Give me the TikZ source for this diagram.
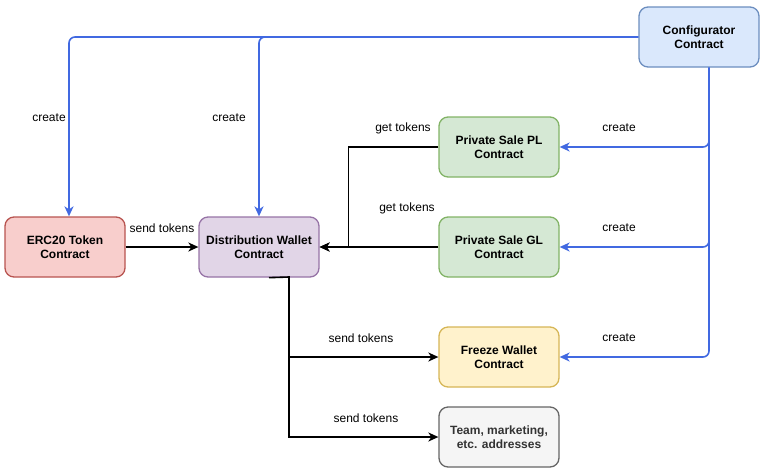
\documentclass[tikz,border=0pt]{standalone}
\usepackage{fontspec}
\setmainfont{Liberation Sans}
\usepackage{xcolor}
\usetikzlibrary{arrows.meta}
\definecolor{softred}{HTML}{F8CECC}
\definecolor{linered}{HTML}{B85450}
\definecolor{softpurple}{HTML}{E1D5E7}
\definecolor{linepurple}{HTML}{9673A6}
\definecolor{softgreen}{HTML}{D5E8D4}
\definecolor{linegreen}{HTML}{82B366}
\definecolor{softyellow}{HTML}{FFF2CC}
\definecolor{lineyellow}{HTML}{D6B656}
\definecolor{softgray}{HTML}{F5F5F5}
\definecolor{linegray}{HTML}{666666}
\definecolor{textgray}{HTML}{333333}
\definecolor{softblue}{HTML}{DAE8FC}
\definecolor{lineblue}{HTML}{6C8EBF}
\definecolor{createblue}{HTML}{4169E1}
\tikzset{
  blk/.style={draw, rounded corners=9pt, line width=1.3pt, minimum width=120pt, minimum height=60pt, align=center, inner sep=2pt, font=\fontsize{12}{14}\selectfont\bfseries},
  blkr/.style={blk, fill=softred, draw=linered},
  blkp/.style={blk, fill=softpurple, draw=linepurple},
  blkg/.style={blk, fill=softgreen, draw=linegreen},
  blky/.style={blk, fill=softyellow, draw=lineyellow},
  blkk/.style={blk, fill=softgray, draw=linegray, text=textgray},
  blkb/.style={blk, fill=softblue, draw=lineblue},
  ar/.style={-{Stealth[length=10pt,width=9pt,inset=3pt]}, line width=1.6pt},
  arb/.style={ar, draw=createblue, rounded corners=6pt},
  lbl/.style={font=\fontsize{12}{14}\selectfont, inner sep=1pt},
}
\begin{document}
\begin{tikzpicture}[x=1pt, y=-1pt]
  \useasboundingbox (0,0) rectangle (773,472);
  % contracts
  \node[blkb] (cfg) at (699,37) {Configurator\\Contract};
  \node[blkr] (erc) at (65,247) {ERC20 Token\\Contract};
  \node[blkp] (dist) at (259,247) {Distribution Wallet\\Contract};
  \node[blkg] (psp) at (499,147) {Private Sale PL\\Contract};
  \node[blkg] (psg) at (499,247) {Private Sale GL\\Contract};
  \node[blky] (frz) at (499,357) {Freeze Wallet\\Contract};
  \node[blkk] (team) at (499,437) {Team, marketing,\\etc. addresses};
  \coordinate (split) at (289,277);
  % create
  \draw[arb] (cfg.west) -| ([xshift=4pt]erc.north);
  \draw[arb] (cfg.west) -| (dist.north);
  \draw[arb] ([xshift=10pt]cfg.south) |- (psp.east);
  \draw[arb] ([xshift=10pt]cfg.south) |- (psg.east);
  \draw[arb] ([xshift=10pt]cfg.south) |- (frz.east);
  % tokens
  \draw[ar] (erc) -- (dist);
  \draw[ar] (psp.west) -- ++(-90,0) |- (dist.east);
  \draw[ar] (psg) -- (dist);
  \draw[ar] ([xshift=10pt]dist.south) -- (split) |- (frz.west);
  \draw[ar] (split) |- (team.west);
  % labels
  \node[lbl] (l1) at (49,118) {create};
  \node[lbl] (l2) at (229,118) {create};
  \node[lbl] (l3) at (619,128) {create};
  \node[lbl] (l4) at (619,228) {create};
  \node[lbl] (l5) at (619,338) {create};
  \node[lbl] (l6) at (403,128) {get tokens};
  \node[lbl] (l7) at (407,208) {get tokens};
  \node[lbl] (l8) at (162,228) {send tokens};
  \node[lbl] (l9) at (361,338) {send tokens};
  \node[lbl] (l10) at (366,418) {send tokens};
\end{tikzpicture}
\end{document}
